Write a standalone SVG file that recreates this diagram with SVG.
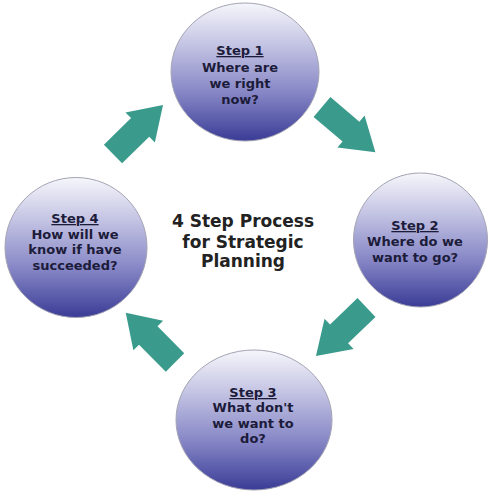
<svg xmlns="http://www.w3.org/2000/svg" xmlns:xlink="http://www.w3.org/1999/xlink" width="494" height="498" viewBox="0 0 494 498">
<style>
.node{fill:url(#g);stroke:#a4a4b4;stroke-width:1}
.t{font-family:"DejaVu Sans",Verdana,sans-serif;font-weight:bold;font-size:13px;fill:#1c1c3a;text-anchor:middle}
.u{text-decoration:underline}
.title{font-family:"DejaVu Sans",Verdana,sans-serif;font-weight:bold;font-size:17px;fill:#222;text-anchor:middle}
.arr{fill:#3a9b8c}
</style>
<defs>
<linearGradient id="g" x1="0" y1="0" x2="0" y2="1">
<stop offset="0" stop-color="#f6f6fb"/>
<stop offset="0.3" stop-color="#c4c4e4"/>
<stop offset="0.65" stop-color="#8686c6"/>
<stop offset="1" stop-color="#3a3c96"/>
</linearGradient>
<path id="a" d="M0,-13 L38,-13 L38,-21 L70,0 L38,21 L38,13 L0,13 Z"/>
</defs>
<rect width="494" height="498" fill="#fff"/>
<g id="connectors">
<use xlink:href="#a" class="arr" transform="translate(113,154) rotate(-44.4)"/>
<use xlink:href="#a" class="arr" transform="translate(322,107) rotate(40.3)"/>
<use xlink:href="#a" class="arr" transform="translate(366.5,307.5) rotate(136.2)"/>
<use xlink:href="#a" class="arr" transform="translate(175,362.5) rotate(-134.7)"/>
</g>
<g id="step1">
<ellipse class="node" cx="245" cy="72" rx="74" ry="69"/>
<text class="t" x="240"><tspan class="u" x="240" y="55">Step 1</tspan><tspan x="240" y="72">Where are</tspan><tspan x="240" y="88">we right</tspan><tspan x="240" y="104">now?</tspan></text>
</g>
<g id="step2">
<ellipse class="node" cx="420.5" cy="240" rx="67" ry="67"/>
<text class="t"><tspan class="u" x="415" y="230">Step 2</tspan><tspan x="415" y="246">Where do we</tspan><tspan x="415" y="262">want to go?</tspan></text>
</g>
<g id="step3">
<ellipse class="node" cx="254" cy="420" rx="78" ry="70"/>
<text class="t"><tspan class="u" x="253" y="397">Step 3</tspan><tspan x="253" y="412">What don't</tspan><tspan x="253" y="428">we want to</tspan><tspan x="253" y="443">do?</tspan></text>
</g>
<g id="step4">
<ellipse class="node" cx="76" cy="247.5" rx="71" ry="70"/>
<text class="t"><tspan class="u" x="75" y="223">Step 4</tspan><tspan x="75" y="239">How will we</tspan><tspan x="75" y="254">know if have</tspan><tspan x="75" y="270">succeeded?</tspan></text>
</g>
<g id="title">
<text class="title"><tspan x="243" y="227">4 Step Process</tspan><tspan x="243" y="248">for Strategic</tspan><tspan x="243" y="267">Planning</tspan></text>
</g>
</svg>
